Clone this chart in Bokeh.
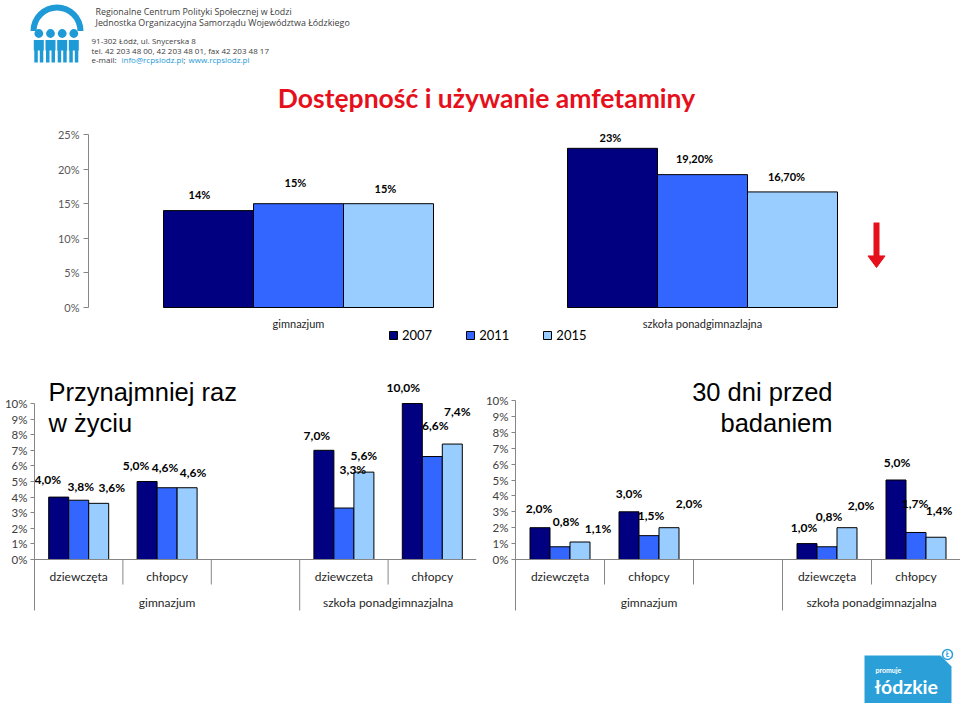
import math
from bokeh.plotting import figure
from bokeh.models import Range1d, FixedTicker, PrintfTickFormatter, Legend, LegendItem
from bokeh.layouts import column, row
from bokeh.core.properties import value
from bokeh.embed import file_html
from bokeh.resources import INLINE

# ---------------- data ----------------
years = ["2007", "2011", "2015"]
year_colors = ["#000080", "#3366FF", "#99CCFF"]

top_categories = ["gimnazjum", "szkoła ponadgimnazlajna"]
top_2007 = [14, 23]
top_2011 = [15, 19.2]
top_2015 = [15, 16.7]
top_labels_2007 = ["14%", "23%"]
top_labels_2011 = ["15%", "19,20%"]
top_labels_2015 = ["15%", "16,70%"]
top_ticks = [0, 5, 10, 15, 20, 25]

bottom_groups = ["gimnazjum", "gimnazjum", "gimnazjum",
                 "szkoła ponadgimnazjalna", "szkoła ponadgimnazjalna"]

life_categories = ["dziewczęta", "chłopcy", "", "dziewczeta", "chłopcy"]
life_2007 = [4.0, 5.0, None, 7.0, 10.0]
life_2011 = [3.8, 4.6, None, 3.3, 6.6]
life_2015 = [3.6, 4.6, None, 5.6, 7.4]

month_categories = ["dziewczęta", "chłopcy", "", "dziewczęta", "chłopcy"]
month_2007 = [2.0, 3.0, None, 1.0, 5.0]
month_2011 = [0.8, 1.5, None, 0.8, 1.7]
month_2015 = [1.1, 2.0, None, 2.0, 1.4]

bottom_ticks = list(range(0, 11))

title_text = "Dostępność i używanie amfetaminy"
life_title = ["Przynajmniej raz", "w życiu"]
month_title = ["30 dni przed", "badaniem"]

header_lines = ["Regionalne Centrum Polityki Społecznej w Łodzi",
                "Jednostka Organizacyjna Samorządu Województwa Łódzkiego",
                "91-302 Łódź, ul. Snycerska 8",
                "tel.  42 203 48 00, 42 203 48 01, fax 42 203 48 17"]
mail_parts = ["e-mail:", "info@rcpslodz.pl", ";", "www.rcpslodz.pl"]

# ---------------- styles (label nudges in px) ----------------
top_dx = [[-9, -2], [-3, -8], [-3, -6]]
top_dy = [[16, 11], [21.5, 16.4], [15.5, 15.4]]
life_dx = [[-11, -11, 0, -7, -9], [2, -2, 0, 9, 3], [13, 6, 0, 0, 5]]
life_dy = [[17.6, 16, 0, 15, 16], [13.7, 20, 0, 38.5, 31], [15.8, 15, 0, 16.6, 32.6]]
month_dx = [[-1, 0, 0, -3, 1], [6, 2, 0, 2, -1], [18, 20, 0, 14, 3]]
month_dy = [[19, 18, 0, 16, 17.5], [25, 20, 0, 30, 29], [13.5, 24, 0, 22, 27]]

CAL = "Lato"
ARIAL = "Liberation Sans"
HDR = "Open Sans"
AXIS = "#868686"
TICKTXT = "#595959"
CATTXT = "#262626"
RED = "#E5101B"
LOGO_BLUE = "#1E9AD6"


def blank_fig(w, h):
    p = figure(width=w, height=h, x_range=Range1d(0, w), y_range=Range1d(0, h),
               x_axis_location=None, y_axis_location=None, toolbar_location=None,
               output_backend="svg", min_border=0, outline_line_color=None,
               frame_align=False)
    p.grid.visible = False
    return p


# ---------------- header ----------------
HW, HH = 960, 120
header = blank_fig(HW, HH)
header.annular_wedge(x=56.5, y=89.5, inner_radius=20.5, outer_radius=26.5, start_angle=0,
                     end_angle=math.pi, fill_color=LOGO_BLUE, line_color=None)
hx = [38.3, 50, 61.7, 73.3]
header.circle(x=hx, y=[87] * 4, radius=4.4, fill_color=LOGO_BLUE, line_color=None)
header.quad(left=[x - 5 for x in hx], right=[x + 5 for x in hx], top=[80.5] * 4,
            bottom=[70] * 4, fill_color=LOGO_BLUE, line_color=None)
header.quad(left=[x - 4.5 for x in hx] + [x + 1 for x in hx],
            right=[x - 1 for x in hx] + [x + 4.5 for x in hx],
            top=[70.5] * 8, bottom=[58] * 8, fill_color=LOGO_BLUE, line_color=None)
header.text(x=[95, 95], y=[109.5, 98.5], text=header_lines[:2], text_font=value(HDR),
            text_font_size="8.9px", text_color="#404040", text_baseline="middle")
header.text(x=[91, 91], y=[80.5, 70.5], text=header_lines[2:], text_font=value(HDR),
            text_font_size="8px", text_color="#404040", text_baseline="middle")
header.text(x=[91, 183], y=[61.5, 61.5], text=[mail_parts[0], mail_parts[2]],
            text_font=value(HDR), text_font_size="8px", text_color="#404040",
            text_baseline="middle")
header.text(x=[121, 188], y=[61.5, 61.5], text=[mail_parts[1], mail_parts[3]],
            text_font=value(HDR), text_font_size="8px", text_color=LOGO_BLUE,
            text_baseline="middle")
header.text(x=[486], y=[23], text=[title_text], text_font=value(CAL), text_font_style="bold",
            text_font_size="26.5px", text_color=RED, text_align="center",
            text_baseline="middle")

# ---------------- top chart ----------------
TW, TH = 960, 232
T_PPU = 6.92          # px per 1%
T_CAT = 404.0         # px per category
T_LEFT, T_RIGHT, T_TOP = 88, 12, 4
t_frame_w = TW - T_LEFT - T_RIGHT
t_frame_h = TH - T_TOP
t_base = 183          # px from frame top to 0%
t_x0 = -210.0 / T_CAT
top = figure(width=TW, height=TH,
             x_range=Range1d(t_x0, t_x0 + t_frame_w / T_CAT),
             y_range=Range1d(-(t_frame_h - t_base) / T_PPU, t_base / T_PPU),
             x_axis_location=None, y_axis_location="left", toolbar_location=None,
             output_backend="svg", min_border_left=T_LEFT, min_border_right=T_RIGHT,
             min_border_top=T_TOP, min_border_bottom=0, outline_line_color=None,
             frame_align=False)
top.grid.visible = False
ya = top.yaxis[0]
ya.bounds = (0, 25)
ya.ticker = FixedTicker(ticks=top_ticks)
ya.formatter = PrintfTickFormatter(format="%d%%")
ya.axis_line_color = AXIS
ya.major_tick_line_color = AXIS
ya.major_tick_in = 0
ya.major_tick_out = 5
ya.minor_tick_line_color = None
ya.major_label_text_font = CAL
ya.major_label_text_font_size = "11px"
ya.major_label_text_color = TICKTXT
ya.major_label_standoff = 4

t_bw = 90.0 / T_CAT
t_series = [top_2007, top_2011, top_2015]
t_labels = [top_labels_2007, top_labels_2011, top_labels_2015]
t_rs = []
for j, vals in enumerate(t_series):
    xs = [i + (j - 1) * t_bw for i in range(len(vals))]
    r = top.vbar(x=xs, top=vals, width=t_bw, fill_color=year_colors[j],
                 line_color="black", line_width=1)
    t_rs.append(r)
for j, vals in enumerate(t_series):
    xs = [i + (j - 1) * t_bw for i in range(len(vals))]
    top.text(x=xs, y=vals, text=t_labels[j], x_offset=top_dx[j],
             y_offset=[-d for d in top_dy[j]], text_font=value(CAL), text_font_style="bold",
             text_font_size="11px", text_color="black", text_align="center",
             text_baseline="middle")
top.text(x=list(range(len(top_categories))), y=[0] * len(top_categories), text=top_categories,
         y_offset=16, text_font=value(CAL), text_font_size="11px", text_color=CATTXT,
         text_align="center", text_baseline="middle")
legend = Legend(items=[LegendItem(label=y, renderers=[r]) for y, r in zip(years, t_rs)],
                orientation="horizontal", location=(300, 9), glyph_width=10,
                glyph_height=10, label_standoff=4, spacing=33, padding=0, margin=0,
                border_line_color=None, background_fill_alpha=0, label_height=14,
                label_text_font=CAL, label_text_font_size="13px", label_text_color="black")
top.add_layout(legend)
# red arrow next to the second group
ax = 1 + 174.0 / T_CAT
top.segment(x0=[ax], y0=[12.28], x1=[ax], y1=[7.3], line_color=RED, line_width=6)
hw = 8.5 / T_CAT
top.patch(x=[ax - hw, ax + hw, ax], y=[7.45, 7.45, 5.78], fill_color=RED, line_color=RED)


# ---------------- bottom charts ----------------
BW, BH = 480, 263
B_FRAME_H = 260
B_BASE = 207   # px from frame top to 0%


def fmt(v):
    return ("%.1f%%" % v).replace(".", ",")


def bottom_chart(cats, groups, series, dxs, dys, ppu, bl, br, title_lines, tx_px, talign):
    n = len(cats)
    y_end = B_BASE / ppu
    y_start = -(B_FRAME_H - B_BASE) / ppu
    frame_w = BW - bl - br
    cat_px = frame_w / n
    p = figure(width=BW, height=BH, x_range=Range1d(0, n), y_range=Range1d(y_start, y_end),
               x_axis_location=None, y_axis_location="left", toolbar_location=None,
               output_backend="svg", min_border_left=bl, min_border_right=br,
               min_border_top=0, min_border_bottom=BH - B_FRAME_H, outline_line_color=None,
               frame_align=False)
    p.grid.visible = False
    bottom_bound = -51.0 / ppu
    a = p.yaxis[0]
    a.bounds = (bottom_bound, 10)
    a.ticker = FixedTicker(ticks=bottom_ticks)
    a.formatter = PrintfTickFormatter(format="%d%%")
    a.axis_line_color = AXIS
    a.major_tick_line_color = AXIS
    a.major_tick_in = 0
    a.major_tick_out = 4
    a.minor_tick_line_color = None
    a.major_label_text_font = CAL
    a.major_label_text_font_size = "11.5px"
    a.major_label_text_color = "#404040"
    a.major_label_standoff = 3

    bw = 20.0 / cat_px
    lab = []
    for j, vals in enumerate(series):
        idx = [i for i, v in enumerate(vals) if v is not None]
        xs = [i + 0.5 + (j - 1) * bw for i in idx]
        tops = [vals[i] for i in idx]
        p.vbar(x=xs, top=tops, width=bw, fill_color=year_colors[j], line_color="black",
               line_width=1)
        lab.append((xs, tops, [dxs[j][i] for i in idx], [-dys[j][i] for i in idx]))
    for xs, tops, dx, dy in lab:
        p.text(x=xs, y=tops, text=[fmt(v) for v in tops], x_offset=dx, y_offset=dy,
               text_font=value(CAL), text_font_style="bold", text_font_size="12px",
               text_color="black", text_align="center", text_baseline="middle")
    # category axis
    p.segment(x0=[0], y0=[0], x1=[n], y1=[0], line_color=AXIS, line_width=1)
    sx, sy = [], []
    for k in range(1, n):
        sx.append(k)
        sy.append(-25.0 / ppu if groups[k] == groups[k - 1] else bottom_bound)
    p.segment(x0=sx, y0=[0] * len(sx), x1=sx, y1=sy, line_color=AXIS, line_width=1)
    p.text(x=[i + 0.5 for i in range(n)], y=[0] * n, text=cats, y_offset=17,
           text_font=value(CAL), text_font_size="12px", text_color=CATTXT,
           text_align="center", text_baseline="middle")
    gnames, gcent = [], []
    for g in dict.fromkeys(groups):
        ids = [i for i, gg in enumerate(groups) if gg == g]
        gnames.append(g)
        gcent.append((ids[0] + ids[-1] + 1) / 2.0)
    p.text(x=gcent, y=[0] * len(gcent), text=gnames, y_offset=43, text_font=value(CAL),
           text_font_size="12px", text_color=CATTXT, text_align="center",
           text_baseline="middle")
    # panel title
    tx = tx_px / cat_px
    p.text(x=[tx, tx], y=[0, 0], text=title_lines, y_offset=[-168, -137],
           text_font=value(ARIAL), text_font_size="25.5px", text_color="black",
           text_align=talign, text_baseline="middle")
    return p


left = bottom_chart(life_categories, bottom_groups, [life_2007, life_2011, life_2015],
                    life_dx, life_dy, 15.6, 34, 4, life_title, 14, "left")
right = bottom_chart(month_categories, bottom_groups, [month_2007, month_2011, month_2015],
                     month_dx, month_dy, 15.9, 35, 0, month_title, 317, "right")

# ---------------- footer ----------------
FW, FH = 960, 88
footer = blank_fig(FW, FH)
footer.patch(x=[864, 940, 951, 951, 864], y=[48, 48, 37, 0, 0], fill_color="#2A9FD8",
             line_color=None)
footer.circle(x=[947], y=[49], radius=5, fill_color="white", line_color="#2A9FD8",
              line_width=1.5)
footer.text(x=[947], y=[49], text=["Ł"], text_font=value(CAL), text_font_size="6.5px",
            text_font_style="bold", text_color="#2A9FD8", text_align="center",
            text_baseline="middle")
footer.text(x=[875], y=[34], text=["promuje"], text_font=value(CAL), text_font_size="7px",
            text_font_style="bold", text_color="white", text_baseline="middle")
footer.text(x=[874], y=[17], text=["łódzkie"], text_font=value(CAL), text_font_size="19.5px",
            text_font_style="bold", text_color="white", text_baseline="middle")

page = column(header, top, row(left, right), footer)
open("out.html", "w").write(file_html(page, INLINE))
